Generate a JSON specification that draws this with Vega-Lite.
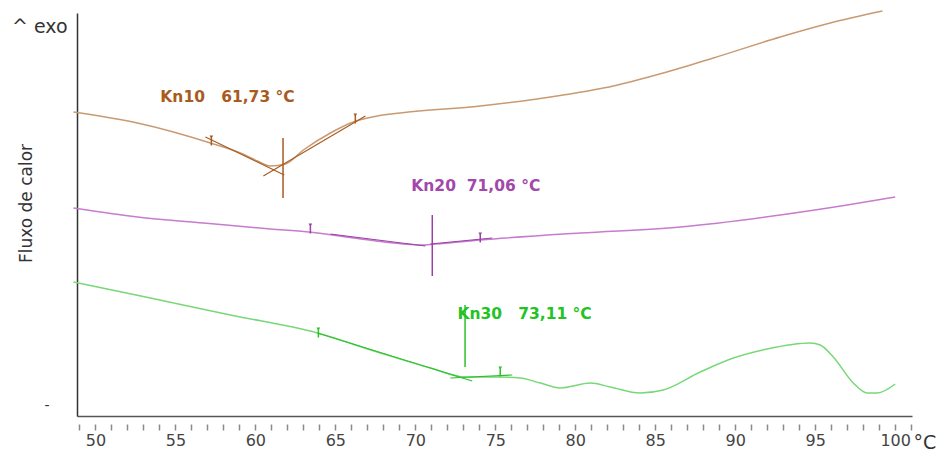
{
  "$schema": "https://vega.github.io/schema/vega-lite/v6.json",
  "width": 835,
  "height": 403,
  "autosize": "none",
  "padding": {"left": 77, "top": 13, "right": 32, "bottom": 35},
  "background": "white",
  "config": {"view": {"stroke": null}, "font": "DejaVu Sans"},
  "title": {"text": "^ exo", "anchor": "start", "frame": "group", "orient": "top", "offset": 0, "dx": -65, "dy": 38, "baseline": "middle", "fontSize": 19, "fontWeight": "normal", "color": "#333333"},
  "datasets": {
    "curvas": [
      {"amostra": "Kn10", "T": 48.63, "fluxo": 304},
      {"amostra": "Kn10", "T": 52.63, "fluxo": 293},
      {"amostra": "Kn10", "T": 57.19, "fluxo": 273},
      {"amostra": "Kn10", "T": 59.06, "fluxo": 263},
      {"amostra": "Kn10", "T": 60.13, "fluxo": 255},
      {"amostra": "Kn10", "T": 60.94, "fluxo": 250},
      {"amostra": "Kn10", "T": 61.88, "fluxo": 252},
      {"amostra": "Kn10", "T": 63.0, "fluxo": 266},
      {"amostra": "Kn10", "T": 64.69, "fluxo": 283},
      {"amostra": "Kn10", "T": 66.13, "fluxo": 294},
      {"amostra": "Kn10", "T": 67.31, "fluxo": 299},
      {"amostra": "Kn10", "T": 69.06, "fluxo": 303},
      {"amostra": "Kn10", "T": 74.06, "fluxo": 310},
      {"amostra": "Kn10", "T": 79.25, "fluxo": 321},
      {"amostra": "Kn10", "T": 82.38, "fluxo": 330},
      {"amostra": "Kn10", "T": 85.5, "fluxo": 343},
      {"amostra": "Kn10", "T": 88.63, "fluxo": 358},
      {"amostra": "Kn10", "T": 92.81, "fluxo": 379},
      {"amostra": "Kn10", "T": 95.94, "fluxo": 393},
      {"amostra": "Kn10", "T": 99.2, "fluxo": 405},
      {"amostra": "Kn20", "T": 48.63, "fluxo": 208},
      {"amostra": "Kn20", "T": 52.63, "fluxo": 199},
      {"amostra": "Kn20", "T": 56.75, "fluxo": 193},
      {"amostra": "Kn20", "T": 60.94, "fluxo": 187},
      {"amostra": "Kn20", "T": 63.31, "fluxo": 184},
      {"amostra": "Kn20", "T": 66.13, "fluxo": 178},
      {"amostra": "Kn20", "T": 69.25, "fluxo": 172},
      {"amostra": "Kn20", "T": 70.31, "fluxo": 171},
      {"amostra": "Kn20", "T": 71.25, "fluxo": 172},
      {"amostra": "Kn20", "T": 74.06, "fluxo": 176},
      {"amostra": "Kn20", "T": 80.31, "fluxo": 183},
      {"amostra": "Kn20", "T": 86.56, "fluxo": 189},
      {"amostra": "Kn20", "T": 92.81, "fluxo": 201},
      {"amostra": "Kn20", "T": 97.0, "fluxo": 211},
      {"amostra": "Kn20", "T": 100.0, "fluxo": 219},
      {"amostra": "Kn30", "T": 48.63, "fluxo": 134},
      {"amostra": "Kn30", "T": 53.44, "fluxo": 118},
      {"amostra": "Kn30", "T": 58.44, "fluxo": 101},
      {"amostra": "Kn30", "T": 63.88, "fluxo": 83},
      {"amostra": "Kn30", "T": 67.81, "fluxo": 63},
      {"amostra": "Kn30", "T": 70.94, "fluxo": 48},
      {"amostra": "Kn30", "T": 73.13, "fluxo": 39},
      {"amostra": "Kn30", "T": 75.13, "fluxo": 39},
      {"amostra": "Kn30", "T": 76.56, "fluxo": 38},
      {"amostra": "Kn30", "T": 77.81, "fluxo": 33},
      {"amostra": "Kn30", "T": 79.06, "fluxo": 28},
      {"amostra": "Kn30", "T": 80.94, "fluxo": 33},
      {"amostra": "Kn30", "T": 82.19, "fluxo": 29},
      {"amostra": "Kn30", "T": 84.06, "fluxo": 23},
      {"amostra": "Kn30", "T": 85.5, "fluxo": 26},
      {"amostra": "Kn30", "T": 87.81, "fluxo": 44},
      {"amostra": "Kn30", "T": 89.88, "fluxo": 58},
      {"amostra": "Kn30", "T": 92.0, "fluxo": 67},
      {"amostra": "Kn30", "T": 94.69, "fluxo": 73},
      {"amostra": "Kn30", "T": 95.31, "fluxo": 71},
      {"amostra": "Kn30", "T": 96.13, "fluxo": 59},
      {"amostra": "Kn30", "T": 97.38, "fluxo": 33},
      {"amostra": "Kn30", "T": 98.25, "fluxo": 23},
      {"amostra": "Kn30", "T": 98.88, "fluxo": 23},
      {"amostra": "Kn30", "T": 100.0, "fluxo": 32}
    ],
    "tangentes": [
      {"amostra": "Kn10", "seg": "Kn10-a", "T": 56.88, "fluxo": 279},
      {"amostra": "Kn10", "seg": "Kn10-a", "T": 61.81, "fluxo": 241},
      {"amostra": "Kn10", "seg": "Kn10-b", "T": 60.5, "fluxo": 240},
      {"amostra": "Kn10", "seg": "Kn10-b", "T": 66.88, "fluxo": 300},
      {"amostra": "Kn20", "seg": "Kn20-a", "T": 64.69, "fluxo": 182},
      {"amostra": "Kn20", "seg": "Kn20-a", "T": 70.63, "fluxo": 170},
      {"amostra": "Kn20", "seg": "Kn20-b", "T": 70.94, "fluxo": 172},
      {"amostra": "Kn20", "seg": "Kn20-b", "T": 74.81, "fluxo": 178},
      {"amostra": "Kn30", "seg": "Kn30-a", "T": 63.88, "fluxo": 83},
      {"amostra": "Kn30", "seg": "Kn30-a", "T": 73.56, "fluxo": 35},
      {"amostra": "Kn30", "seg": "Kn30-b", "T": 72.19, "fluxo": 38},
      {"amostra": "Kn30", "seg": "Kn30-b", "T": 76.06, "fluxo": 41}
    ],
    "onsets": [
      {"amostra": "Kn10", "T": 61.73, "topo": 278, "base": 218},
      {"amostra": "Kn20", "T": 71.06, "topo": 201, "base": 140},
      {"amostra": "Kn30", "T": 73.11, "topo": 111, "base": 49}
    ],
    "marcas": [
      {"amostra": "Kn10", "T": 57.25, "fluxo": 275},
      {"amostra": "Kn10", "T": 66.25, "fluxo": 297},
      {"amostra": "Kn20", "T": 63.44, "fluxo": 187},
      {"amostra": "Kn20", "T": 74.06, "fluxo": 178},
      {"amostra": "Kn30", "T": 63.94, "fluxo": 83},
      {"amostra": "Kn30", "T": 75.31, "fluxo": 44}
    ],
    "rotulos": [
      {"amostra": "Kn10", "T": 54.06, "fluxo": 319, "texto": "Kn10\u00a0\u00a0\u00a061,73\u00a0°C"},
      {"amostra": "Kn20", "T": 69.75, "fluxo": 230, "texto": "Kn20\u00a0\u00a071,06\u00a0°C"},
      {"amostra": "Kn30", "T": 72.63, "fluxo": 102, "texto": "Kn30\u00a0\u00a0\u00a073,11\u00a0°C"}
    ]
  },
  "layer": [
    {
      "data": {"name": "curvas"},
      "mark": {"type": "line", "strokeWidth": 1.5, "interpolate": "monotone"},
      "encoding": {
        "x": {"field": "T", "type": "quantitative",
              "scale": {"domain": [48.85, 101.05], "nice": false, "zero": false},
              "axis": {"domain": true, "domainColor": "#555555", "domainWidth": 1.5, "ticks": false, "labels": false, "grid": false, "title": null}},
        "y": {"field": "fluxo", "type": "quantitative",
              "scale": {"domain": [0, 403], "nice": false, "zero": false},
              "axis": {"domain": true, "domainColor": "#333333", "domainWidth": 1.5, "ticks": false, "grid": false,
                       "values": [11], "labelExpr": "'-'", "labelPadding": 28, "labelFontSize": 14, "labelColor": "#333333",
                       "title": "Fluxo de calor", "titleX": -42, "titleY": 190, "titleFontSize": 17, "titleFontWeight": "normal", "titleColor": "#333333"}},
        "color": {"field": "amostra", "type": "nominal", "legend": null,
                  "scale": {"domain": ["Kn10", "Kn20", "Kn30"], "range": ["#c99a72", "#c77ccd", "#78d878"]}}
      }
    },
    {
      "data": {"name": "tangentes"},
      "mark": {"type": "line", "strokeWidth": 1.2},
      "encoding": {
        "x": {"field": "T", "type": "quantitative", "axis": null},
        "y": {"field": "fluxo", "type": "quantitative"},
        "detail": {"field": "seg"},
        "color": {"field": "amostra", "type": "nominal", "legend": null,
                  "scale": {"domain": ["Kn10", "Kn20", "Kn30"], "range": ["#a85b20", "#9c3fa6", "#2cc02c"]}}
      }
    },
    {
      "data": {"name": "onsets"},
      "mark": {"type": "rule", "strokeWidth": 1.5},
      "encoding": {
        "x": {"field": "T", "type": "quantitative", "axis": null},
        "y": {"field": "topo", "type": "quantitative"},
        "y2": {"field": "base"},
        "color": {"field": "amostra", "type": "nominal", "legend": null,
                  "scale": {"domain": ["Kn10", "Kn20", "Kn30"], "range": ["#a85b20", "#9c3fa6", "#2cc02c"]}}
      }
    },
    {
      "data": {"name": "marcas"},
      "mark": {"type": "tick", "orient": "vertical", "size": 9, "thickness": 1.5, "opacity": 1},
      "encoding": {
        "x": {"field": "T", "type": "quantitative", "axis": null},
        "y": {"field": "fluxo", "type": "quantitative"},
        "color": {"field": "amostra", "type": "nominal", "legend": null,
                  "scale": {"domain": ["Kn10", "Kn20", "Kn30"], "range": ["#a85b20", "#9c3fa6", "#2cc02c"]}}
      }
    },
    {
      "data": {"name": "marcas"},
      "mark": {"type": "point", "shape": "triangle-down", "filled": true, "size": 14, "yOffset": -4, "opacity": 1},
      "encoding": {
        "x": {"field": "T", "type": "quantitative", "axis": null},
        "y": {"field": "fluxo", "type": "quantitative"},
        "color": {"field": "amostra", "type": "nominal", "legend": null,
                  "scale": {"domain": ["Kn10", "Kn20", "Kn30"], "range": ["#a85b20", "#9c3fa6", "#2cc02c"]}}
      }
    },
    {
      "data": {"name": "rotulos"},
      "mark": {"type": "text", "align": "left", "baseline": "middle", "fontSize": 15.5, "fontWeight": "bold"},
      "encoding": {
        "x": {"field": "T", "type": "quantitative",
              "axis": {"orient": "bottom", "domain": false, "offset": 8, "grid": false,
                       "values": [49, 50, 51, 52, 53, 54, 55, 56, 57, 58, 59, 60, 61, 62, 63, 64, 65, 66, 67, 68, 69, 70, 71, 72, 73, 74, 75, 76, 77, 78, 79, 80, 81, 82, 83, 84, 85, 86, 87, 88, 89, 90, 91, 92, 93, 94, 95, 96, 97, 98, 99, 100, 101],
                       "tickSize": 6, "tickWidth": 1.5, "tickColor": "#8a8a8a",
                       "labelExpr": "datum.value % 5 === 0 ? datum.value : ''",
                       "labelFontSize": 16, "labelColor": "#444444", "labelPadding": 2, "labelFlush": false, "labelOverlap": false,
                       "title": "°C", "titleAnchor": "start", "titleX": 836, "titleY": 18, "titleBaseline": "middle",
                       "titleFontSize": 19, "titleFontWeight": "normal", "titleColor": "#333333"}},
        "y": {"field": "fluxo", "type": "quantitative"},
        "text": {"field": "texto"},
        "color": {"field": "amostra", "type": "nominal", "legend": null,
                  "scale": {"domain": ["Kn10", "Kn20", "Kn30"], "range": ["#a85b20", "#a347ab", "#22c322"]}}
      }
    }
  ],
  "resolve": {"axis": {"x": "independent"}, "scale": {"color": "independent"}}
}
